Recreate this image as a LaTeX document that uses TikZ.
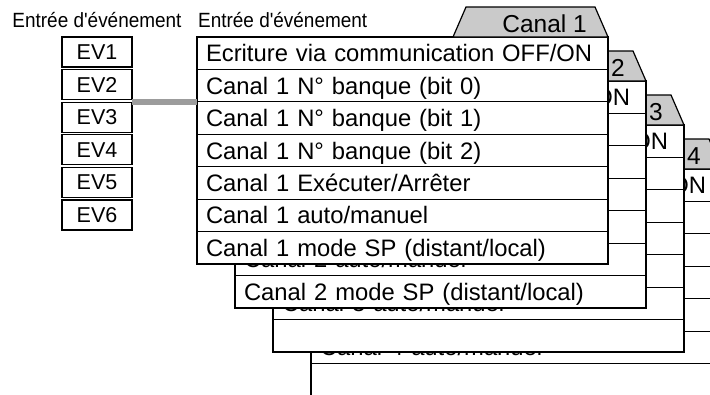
\documentclass[tikz,border=0pt]{standalone}
\usepackage{fontspec}
\setmainfont{Liberation Sans}
\newfontfamily\headfont[FakeStretch=0.92]{Liberation Sans}
\usetikzlibrary{positioning}

\definecolor{tabgray}{HTML}{CACACA}
\definecolor{linkgray}{HTML}{9C9C9C}

\begin{document}
\begin{tikzpicture}[
        x=1pt, y=-1pt,
        font=\fontsize{23.8}{28}\selectfont,
        row/.style={draw, fill=white, line width=1.2pt, rectangle, outer sep=0pt, inner ysep=0pt, inner xsep=9pt, text width=393pt, minimum height=32.43pt, align=left, text height=17pt, text depth=0pt},
        evbox/.style={draw, fill=white, line width=1.2pt, rectangle, outer sep=0pt, inner sep=0pt, minimum width=70pt, minimum height=30pt, text height=15pt, text depth=0pt, font=\fontsize{21.5}{25}\selectfont},
        tab/.style={draw, fill=tabgray, line width=1.2pt, line join=miter},
        tablabel/.style={anchor=base east, inner sep=0pt, font=\fontsize{24.5}{28}\selectfont},
        head/.style={inner sep=0pt, font=\headfont\fontsize{20.6}{24}\selectfont},
        link/.style={draw=linkgray, line width=6pt}
    ]
    \clip (0,0) rectangle (710,394);

    % channel tables, back to front (rows hidden behind the front table stay empty)
    \foreach \ch in {4,3,2,1}{
        \pgfmathsetmacro\cx{197+(\ch-1)*38}
        \pgfmathsetmacro\cy{37+(\ch-1)*44}
        \node[row, anchor=north west] (ch\ch-1) at (\cx,\cy) {Ecriture via communication OFF/ON};
        \node[row, below=0pt of ch\ch-1] (ch\ch-2) {\ifnum\ch=1 Canal 1 N° banque (bit 0)\fi};
        \node[row, below=0pt of ch\ch-2] (ch\ch-3) {\ifnum\ch=1 Canal 1 N° banque (bit 1)\fi};
        \node[row, below=0pt of ch\ch-3] (ch\ch-4) {\ifnum\ch=1 Canal 1 N° banque (bit 2)\fi};
        \node[row, below=0pt of ch\ch-4] (ch\ch-5) {\ifnum\ch=1 Canal 1 Exécuter/Arrêter\fi};
        \node[row, below=0pt of ch\ch-5] (ch\ch-6) {Canal \ch{} auto/manuel};
        \node[row, below=0pt of ch\ch-6] (ch\ch-7) {\ifnum\ch<3 Canal \ch{} mode SP (distant/local)\fi};
        \draw[tab] ([xshift=-155pt]ch\ch-1.north east) -- ++(13,-30) -- ++(129,0) -- ++(13,30) -- cycle;
        \node[tablabel] (tab\ch) at ([xshift=-21pt, yshift=5pt]ch\ch-1.north east) {Canal \ch};
    }

    % event inputs
    \node[evbox, anchor=north west] (ev1) at (62,37) {EV1};
    \node[evbox, below=2.6pt of ev1] (ev2) {EV2};
    \node[evbox, below=2.6pt of ev2] (ev3) {EV3};
    \node[evbox, below=2.6pt of ev3] (ev4) {EV4};
    \node[evbox, below=2.6pt of ev4] (ev5) {EV5};
    \node[evbox, below=2.6pt of ev5] (ev6) {EV6};

    \node[head, above=9.5pt of ev1] (hdev) {Entrée d'événement};
    \node[head, above right=9.5pt and 1pt of ch1-1.north west] (hdch) {Entrée d'événement};

    \draw[link] (ev3.north east |- ch1-2.south west) -- (ch1-2.south west);

\end{tikzpicture}
\end{document}
